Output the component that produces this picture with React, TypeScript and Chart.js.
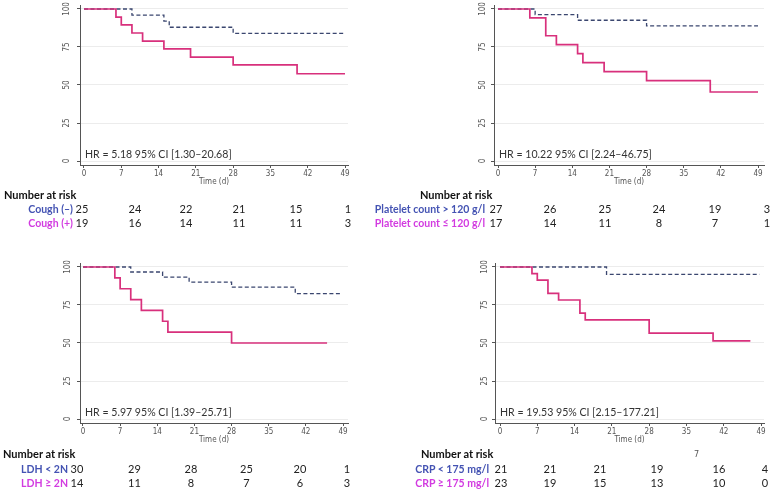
import React, { useEffect, useRef } from "react";
import { Chart, registerables } from "chart.js";
Chart.register(...registerables);

// ---------- data ----------
const xTicks = [0, 7, 14, 21, 28, 35, 42, 49];
const yTicks = [0, 25, 50, 75, 100];

// Cough
const coughNegTime = [0, 9, 15, 16, 28, 49];
const coughNegSurv = [100, 96, 92, 88, 84, 84];
const coughPosTime = [0, 6, 7, 9, 11, 15, 20, 28, 40, 49];
const coughPosSurv = [100, 94.7, 89.5, 84.2, 78.9, 73.7, 68.4, 63.2, 57.4, 57.4];
const coughNegRisk = [25, 24, 22, 21, 15, 1];
const coughPosRisk = [19, 16, 14, 11, 11, 3];

// Platelet count
const pltHighTime = [0, 7, 15, 28, 49];
const pltHighSurv = [100, 96.3, 92.6, 88.9, 88.9];
const pltLowTime = [0, 6, 9, 11, 15, 16, 20, 28, 40, 49];
const pltLowSurv = [100, 94.1, 82.4, 76.5, 70.6, 64.7, 58.8, 52.9, 45.4, 45.4];
const pltHighRisk = [27, 26, 25, 24, 19, 3];
const pltLowRisk = [17, 14, 11, 8, 7, 1];

// LDH
const ldhLowTime = [0, 9, 15, 20, 28, 40, 48.7];
const ldhLowSurv = [100, 96.7, 93.3, 90, 86.7, 82.5, 82.5];
const ldhHighTime = [0, 6, 7, 9, 11, 15, 16, 28, 46];
const ldhHighSurv = [100, 92.9, 85.7, 78.6, 71.4, 64.3, 57.1, 50, 50];
const ldhLowRisk = [30, 29, 28, 25, 20, 1];
const ldhHighRisk = [14, 11, 8, 7, 6, 3];

// CRP
const crpLowTime = [0, 20, 48.7];
const crpLowSurv = [100, 95.2, 95.2];
const crpHighTime = [0, 6, 7, 9, 11, 15, 16, 28, 40, 47];
const crpHighSurv = [100, 95.7, 91.3, 82.6, 78.3, 69.6, 65.2, 56.5, 51.4, 51.4];
const crpLowRisk = [21, 21, 21, 19, 16, 4];
const crpHighRisk = [23, 19, 15, 13, 10, 0];

const hrLabels = [
  "HR = 5.18 95% CI [1.30\u201320.68]",
  "HR = 10.22 95% CI [2.24\u201346.75]",
  "HR = 5.97 95% CI [1.39\u201325.71]",
  "HR = 19.53 95% CI [2.15\u2013177.21]",
];

// ---------- styles ----------
const BLUE_LINE = "#3a466f";
const PINK_LINE = "#d8307c";
const BLUE_TXT = "#4453b3";
const PINK_TXT = "#d23be0";
const TICK_FONT = "'Liberation Sans Narrow', 'DejaVu Sans Condensed', Arial, sans-serif";
const TXT_FONT = "Lato, 'Open Sans', sans-serif";

type PanelProps = {
  left: number; top: number; width: number; yAxisW: number; padRight: number;
  xMin: number; xMax: number; ylabOff: number;
  neg: { t: number[]; s: number[] }; pos: { t: number[]; s: number[] }; hr: string;
};

function Panel(p: PanelProps) {
  const ref = useRef<HTMLCanvasElement | null>(null);
  useEffect(() => {
    if (!ref.current) return;
    const mk = (t: number[], s: number[]) => t.map((x, i) => ({ x, y: s[i] }));
    const overlay = {
      id: "overlay",
      afterDraw(chart: any) {
        const ctx = chart.ctx;
        const ys = chart.scales.y;
        const ca = chart.chartArea;
        ctx.save();
        ctx.fillStyle = "#555";
        ctx.font = `8px ${TICK_FONT}`;
        ctx.textAlign = "center";
        ctx.textBaseline = "middle";
        for (const v of yTicks) {
          const py = ys.getPixelForValue(v);
          ctx.save();
          ctx.translate(ca.left - p.ylabOff, py);
          ctx.rotate(-Math.PI / 2);
          ctx.fillText(String(v), 0, 0);
          ctx.restore();
        }
        ctx.font = `11.5px ${TXT_FONT}`;
        ctx.fillStyle = "#333";
        ctx.textAlign = "left";
        ctx.translate(ca.left + 5, ca.bottom - 11);
        ctx.scale(0.92, 1);
        ctx.fillText(p.hr, 0, 0);
        ctx.restore();
      },
    };
    const chart = new Chart(ref.current, {
      type: "line",
      data: {
        datasets: [
          {
            data: mk(p.pos.t, p.pos.s),
            borderColor: PINK_LINE,
            borderWidth: 1.7,
            stepped: true,
            pointRadius: 0,
            fill: false,
          },
          {
            data: mk(p.neg.t, p.neg.s),
            borderColor: BLUE_LINE,
            borderWidth: 1.3,
            borderDash: [4, 2.5],
            stepped: true,
            pointRadius: 0,
            fill: false,
          },
        ],
      },
      options: {
        animation: false,
        responsive: false,
        events: [],
        layout: { padding: { top: 5, right: p.padRight, left: 0, bottom: 0 } },
        plugins: { legend: { display: false }, tooltip: { enabled: false } },
        scales: {
          x: {
            type: "linear",
            min: p.xMin,
            max: p.xMax,
            afterBuildTicks: (s: any) => { s.ticks = xTicks.map((v) => ({ value: v })); },
            afterFit: (s: any) => { s.height = 25; },
            grid: { drawOnChartArea: false, drawTicks: true, tickLength: 3, tickColor: "#555" },
            border: { display: true, color: "#555", width: 1 },
            ticks: { color: "#555", font: { family: TICK_FONT, size: 8 }, padding: 1, maxRotation: 0, autoSkip: false },
            title: { display: true, text: "Time (d)", color: "#555", font: { family: TICK_FONT, size: 8 }, padding: { top: 3, bottom: 3 } },
          },
          y: {
            type: "linear",
            min: -2.63,
            max: 102.63,
            afterBuildTicks: (s: any) => { s.ticks = yTicks.map((v) => ({ value: v })); },
            afterFit: (s: any) => { s.width = p.yAxisW; },
            grid: { drawOnChartArea: true, color: "#ececec", drawTicks: true, tickLength: 3, tickColor: "#555" },
            border: { display: true, color: "#555", width: 1 },
            ticks: { display: false },
          },
        },
      },
      plugins: [overlay],
    } as any);
    return () => chart.destroy();
  }, []);
  return (
    <canvas
      ref={ref}
      width={p.width}
      height={190}
      style={{ position: "absolute", left: p.left, top: p.top, width: p.width, height: 190 }}
    />
  );
}

type RiskProps = {
  headerLeft: number; headerY: number; labelRight: number; rowY: number[];
  centers: number[]; labels: string[]; values: number[][];
};

function RiskTable(r: RiskProps) {
  const colors = [BLUE_TXT, PINK_TXT];
  const box = (y: number): React.CSSProperties => ({
    position: "absolute", top: y - 8, height: 16, lineHeight: "16px", whiteSpace: "nowrap",
    fontFamily: TXT_FONT, fontSize: 10.5,
  });
  return (
    <>
      <div style={{ ...box(r.headerY), left: r.headerLeft, fontWeight: 700, color: "#111", fontSize: 11 }}>Number at risk</div>
      {r.labels.map((lab, i) => (
        <React.Fragment key={i}>
          <div style={{ ...box(r.rowY[i]), left: r.labelRight - 200, width: 200, textAlign: "right", fontWeight: 700, color: colors[i] }}>
            {lab}
          </div>
          {r.values[i].map((v, j) => (
            <div key={j} style={{ ...box(r.rowY[i]), left: r.centers[j] - 20, width: 40, textAlign: "center", color: "#222", fontSize: 11 }}>
              {v}
            </div>
          ))}
        </React.Fragment>
      ))}
    </>
  );
}

export default function App() {
  return (
    <div style={{ position: "absolute", left: 0, top: 0, width: 774, height: 493, background: "#fff", overflow: "hidden" }}>
      <Panel left={0} top={0} width={360} yAxisW={80} padRight={12} xMin={-0.75} xMax={49.56} ylabOff={13}
        neg={{ t: coughNegTime, s: coughNegSurv }} pos={{ t: coughPosTime, s: coughPosSurv }} hr={hrLabels[0]} />
      <Panel left={385} top={0} width={385} yAxisW={109} padRight={6} xMin={-0.754} xMax={50.13} ylabOff={11}
        neg={{ t: pltHighTime, s: pltHighSurv }} pos={{ t: pltLowTime, s: pltLowSurv }} hr={hrLabels[1]} />
      <Panel left={0} top={258} width={360} yAxisW={80} padRight={12} xMin={-0.565} xMax={49.94} ylabOff={12}
        neg={{ t: ldhLowTime, s: ldhLowSurv }} pos={{ t: ldhHighTime, s: ldhHighSurv }} hr={hrLabels[2]} />
      <Panel left={385} top={258} width={385} yAxisW={110} padRight={6} xMin={-0.94} xMax={49.56} ylabOff={10}
        neg={{ t: crpLowTime, s: crpLowSurv }} pos={{ t: crpHighTime, s: crpHighSurv }} hr={hrLabels[3]} />

      <RiskTable headerLeft={4} headerY={195} labelRight={73} rowY={[209, 223.3]}
        centers={[82, 135, 186, 239, 296, 348]} labels={["Cough (\u2013)", "Cough (+)"]}
        values={[coughNegRisk, coughPosRisk]} />
      <RiskTable headerLeft={420} headerY={195} labelRight={485} rowY={[209, 223.3]}
        centers={[496, 550, 605, 659, 715, 767]} labels={["Platelet count > 120 g/l", "Platelet count \u2264 120 g/l"]}
        values={[pltHighRisk, pltLowRisk]} />
      <RiskTable headerLeft={3} headerY={454.3} labelRight={68} rowY={[469, 483.3]}
        centers={[77, 134.5, 191, 246.5, 300, 347]} labels={["LDH < 2N", "LDH \u2265 2N"]}
        values={[ldhLowRisk, ldhHighRisk]} />
      <RiskTable headerLeft={421} headerY={454.3} labelRight={489} rowY={[469, 483.3]}
        centers={[501, 550, 600, 657, 719, 765]} labels={["CRP < 175 mg/l", "CRP \u2265 175 mg/l"]}
        values={[crpLowRisk, crpHighRisk]} />
      <div style={{ position: "absolute", left: 694, top: 448, fontFamily: TICK_FONT, fontSize: 9, color: "#555", lineHeight: "12px" }}>7</div>
    </div>
  );
}
